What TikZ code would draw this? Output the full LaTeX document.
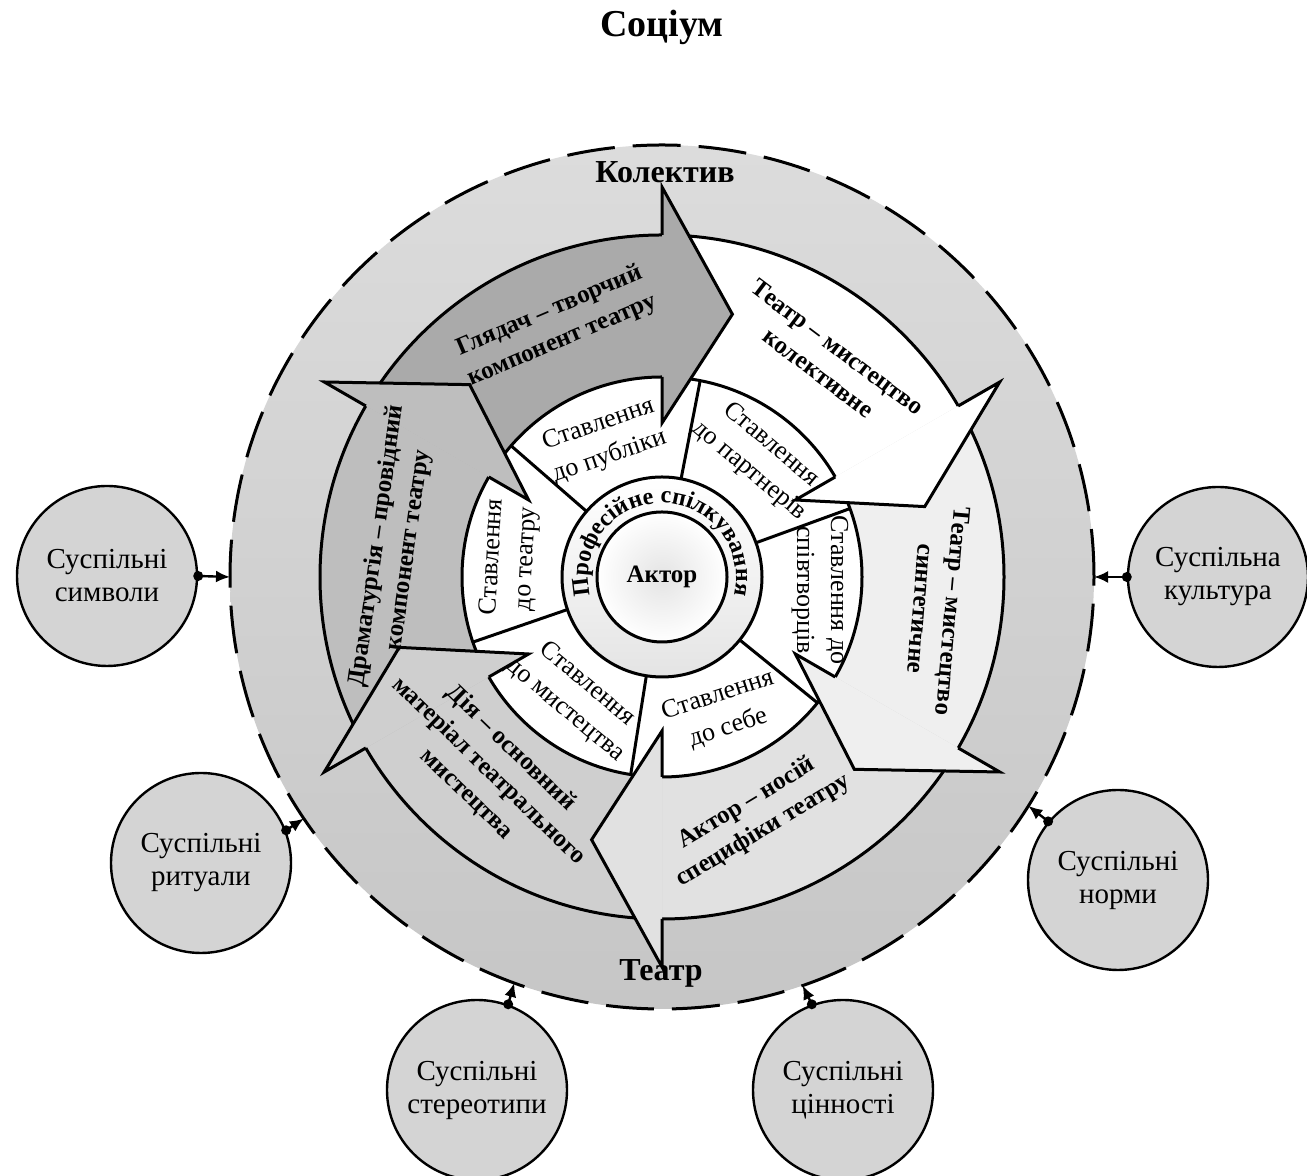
\documentclass[tikz,border=0pt]{standalone}
\usepackage{fontspec}
\setmainfont{Liberation Serif}
\usetikzlibrary{decorations.text,arrows.meta}
\definecolor{bandtop}{HTML}{DCDCDC}
\definecolor{bandbot}{HTML}{C6C6C6}
\definecolor{cglyad}{HTML}{AAAAAA}
\definecolor{ckolekt}{HTML}{FFFFFF}
\definecolor{csynt}{HTML}{EFEFEF}
\definecolor{caktor}{HTML}{E1E1E1}
\definecolor{cdiya}{HTML}{CFCFCF}
\definecolor{cdrama}{HTML}{BEBEBE}
\definecolor{csat}{HTML}{D4D4D4}
\definecolor{cring}{HTML}{E4E4E4}
\begin{document}
\begin{tikzpicture}[x=0.5pt,y=0.5pt,
  outl/.style={line width=1.5pt},
  biglab/.style={font=\bfseries\fontsize{12.5}{16}\selectfont, align=center, inner sep=0pt},
  stlab/.style={font=\fontsize{13}{17}\selectfont, align=center, inner sep=0pt},
  sat/.style={circle, draw, line width=1.2pt, fill=csat, minimum size=90pt, inner sep=0pt, align=center, font=\fontsize{14.5}{16.5}\selectfont},
  conn/.style={line width=1.2pt, -{Latex[length=7pt,width=6pt]}},
  ttl/.style={font=\bfseries\fontsize{19}{21}\selectfont, anchor=base, inner sep=0pt},
  ringlab/.style={font=\bfseries\fontsize{16}{18}\selectfont, anchor=base, inner sep=0pt},
]
\useasboundingbox (0,0) rectangle (1307,1176);
\coordinate (C) at (662,599);
% outer dashed society circle
\node[circle, minimum size=432pt, inner sep=0pt, outer sep=0pt, top color=bandtop, bottom color=bandbot, draw, line width=1.5pt, dash pattern=on 24pt off 9pt] (soc) at (C) {};
\begin{scope}[shift={(662,599)}]
  % ring of attitudes
  \fill[white] (0,0) circle[radius=200];
  \foreach \a in {139,79,20,-39,-99,-161}
    \draw[outl] (\a:100) -- (\a:200);
  % bodies of big arrows
  \foreach \h/\col in {90/cglyad,30/ckolekt,-30/csynt,-90/caktor,-150/cdiya,150/cdrama}
    \fill[\col] ({\h+60}:342) arc[start angle={\h+60}, end angle=\h, radius=342] -- (\h:200) arc[start angle=\h, end angle={\h+60}, radius=200] -- cycle;
  \draw[outl] (0,0) circle[radius=342];
  \draw[outl] (0,0) circle[radius=200];
  % heads
  \foreach \h/\col in {90/cglyad,30/ckolekt,-30/csynt,-90/caktor,-150/cdiya,150/cdrama}{
    \fill[\col] (\h:154) -- ({\h-15}:272) -- (\h:390) -- cycle;
    \draw[outl] (\h:342) -- (\h:390) -- ({\h-15}:272) -- (\h:154) -- (\h:200);
  }
  % professional communication ring
  \shade[top color=white, bottom color=cring] (0,0) circle[radius=100];
  \draw[outl] (0,0) circle[radius=100];
  \shade[inner color=cring, outer color=white] (0,0) circle[radius=65];
  \draw[outl] (0,0) circle[radius=65];
  \path[decorate, decoration={text along path, text align=center, text={|\bfseries\fontsize{12}{12}\selectfont|Професійне спілкування}}] (230:74) arc[start angle=230, end angle=-50, radius=74];
\end{scope}
\node[font=\bfseries\fontsize{12.5}{14}\selectfont, inner sep=0pt] (akt) at (C) {Актор};
% titles
\node[ttl] (socium) at (662,1139) {Соціум};
\node[ringlab] (kolektyv) at (665,993) {Колектив};
\node[ringlab] (teatr) at (661,195) {Театр};
% big arrow labels
\node[biglab, rotate=23] (l1) at (556,850) {Глядач – творчий\\компонент театру};
\node[biglab, rotate=-37] (l2) at (828,816) {Театр – мистецтво\\колективне};
\node[biglab, rotate=-95] (l3) at (937,566) {Театр – мистецтво\\синтетичне};
\node[biglab, rotate=31] (l4) at (755,359) {Актор – носій\\специфіки театру};
\node[biglab, rotate=-44] (l5) at (489,405) {Дія – основний\\матеріал театрального\\мистецтва};
\node[biglab, rotate=82] (l6) at (393,628) {Драматургія – провідний\\компонент театру};
% attitude labels
\node[stlab, rotate=19] (s1) at (604,735) {Ставлення\\до публіки};
\node[stlab, rotate=-40] (s2) at (760,718) {Ставлення\\до партнерів};
\node[stlab, rotate=-90] (s3) at (820,586) {Ставлення до\\співтворців};
\node[stlab, rotate=18] (s4) at (723,464) {Ставлення\\до себе};
\node[stlab, rotate=-40] (s5) at (576,479) {Ставлення\\до мистецтва};
\node[stlab, rotate=87] (s6) at (510,618) {Ставлення\\до театру};
% satellites
\node[sat] (sym) at (107,600) {Суспільні\\символи};
\node[sat] (cult) at (1218,599) {Суспільна\\культура};
\node[sat] (rit) at (201,313) {Суспільні\\ритуали};
\node[sat] (norm) at (1118,296) {Суспільні\\норми};
\node[sat] (ster) at (477,86) {Суспільні\\стереотипи};
\node[sat] (cin) at (843,86) {Суспільні\\цінності};
\foreach \s/\a/\b in {sym/0/180, cult/180/0, rit/21/214, norm/140/328, ster/70/250, cin/110/289}{
  \fill (\s.\a) circle[radius=5];
  \draw[conn] (\s.\a) -- (soc.\b);
}
\end{tikzpicture}
\end{document}
